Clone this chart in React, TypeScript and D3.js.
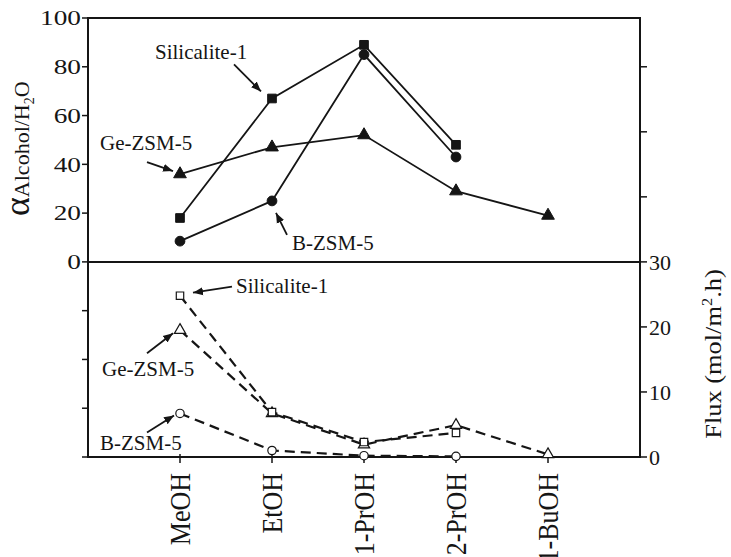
import React, { useEffect, useRef } from 'react';
import * as d3 from 'd3';

// categories along the x axis
const categories = ['MeOH', 'EtOH', '1-PrOH', '2-PrOH', '1-BuOH'];

// separation factor alpha (top panel, left axis)
const alphaSilicalite = [18, 67, 89, 48, null];
const alphaBZSM = [8.5, 25, 85, 43, null];
const alphaGeZSM = [36, 47, 52, 29, 19];

// flux mol/m2.h (bottom panel, right axis)
const fluxSilicalite = [24.8, 6.9, 2.3, 3.7, null];
const fluxGeZSM = [19.5, 6.7, 1.9, 4.9, 0.4];
const fluxBZSM = [6.7, 1.0, 0.2, 0.1, null];

const leftTicks = [0, 20, 40, 60, 80, 100];
const leftMinorTicks = [-20, -40, -60, -80];
const rightTicks = [0, 10, 20, 30];
const rightMinorTicks = [40, 50, 60];

const W = 731;
const H = 557;
const FONT = 'Liberation Serif, Times New Roman, serif';
const INK = '#151515';

type Shape = 'square' | 'circle' | 'triangle';

const App: React.FC = () => {
  const svgRef = useRef<SVGSVGElement>(null);

  useEffect(() => {
    if (!svgRef.current) return;
    const svg = d3.select(svgRef.current);
    svg.selectAll('*').remove();

    const left = 88;
    const right = 640;
    const top = 18;
    const bottom = 457;

    const x = d3.scalePoint<string>().domain(categories).range([left, right]).padding(1);
    const yAlpha = d3.scaleLinear().domain([-80, 100]).range([bottom, top]);
    const yFlux = d3.scaleLinear().domain([0, 67.5]).range([bottom, top]);

    // arrow marker
    svg
      .append('defs')
      .append('marker')
      .attr('id', 'arr')
      .attr('viewBox', '0 0 10 10')
      .attr('refX', 10)
      .attr('refY', 5)
      .attr('markerWidth', 10)
      .attr('markerHeight', 10)
      .attr('markerUnits', 'userSpaceOnUse')
      .attr('orient', 'auto')
      .append('path')
      .attr('d', 'M0,1 L10,5 L0,9 Z')
      .attr('fill', INK);

    const g = svg.append('g').attr('font-family', FONT);

    // frame
    g.append('rect')
      .attr('x', left)
      .attr('y', top)
      .attr('width', right - left)
      .attr('height', bottom - top)
      .attr('fill', 'none')
      .attr('stroke', INK)
      .attr('stroke-width', 2);
    g.append('line')
      .attr('x1', left)
      .attr('x2', right)
      .attr('y1', yAlpha(0))
      .attr('y2', yAlpha(0))
      .attr('stroke', INK)
      .attr('stroke-width', 2);

    // left ticks + labels
    [...leftTicks, ...leftMinorTicks].forEach((t) => {
      g.append('line')
        .attr('x1', left - 6)
        .attr('x2', left)
        .attr('y1', yAlpha(t))
        .attr('y2', yAlpha(t))
        .attr('stroke', INK)
        .attr('stroke-width', 1.5);
    });
    leftTicks.forEach((t) => {
      g.append('text')
        .attr('transform', `translate(${left - 7},${yAlpha(t)}) scale(1.3,1)`)
        .attr('dy', '0.35em')
        .attr('text-anchor', 'end')
        .attr('font-size', 21)
        .attr('fill', INK)
        .text(t);
    });

    // right ticks + labels
    [...rightTicks, ...rightMinorTicks].forEach((t) => {
      g.append('line')
        .attr('x1', right)
        .attr('x2', right + 7)
        .attr('y1', yFlux(t))
        .attr('y2', yFlux(t))
        .attr('stroke', INK)
        .attr('stroke-width', 1.5);
    });
    rightTicks.forEach((t) => {
      g.append('text')
        .attr('x', right + 9)
        .attr('y', yFlux(t))
        .attr('dy', '0.35em')
        .attr('font-size', 22)
        .attr('fill', INK)
        .text(t);
    });

    // x ticks + rotated labels
    categories.forEach((c) => {
      g.append('line')
        .attr('x1', x(c)!)
        .attr('x2', x(c)!)
        .attr('y1', bottom - 3)
        .attr('y2', bottom + 6)
        .attr('stroke', INK)
        .attr('stroke-width', 1.5);
      g.append('text')
        .attr('transform', `translate(${x(c)},${bottom + 16}) rotate(-90) scale(1,1.15)`)
        .attr('dy', '0.35em')
        .attr('text-anchor', 'end')
        .attr('font-size', 26)
        .attr('fill', INK)
        .text(c);
    });

    // axis titles
    const ya = g
      .append('text')
      .attr('transform', `translate(29,216) rotate(-90)`)
      .attr('fill', INK);
    ya.append('tspan').attr('font-size', 36).text('α');
    ya.append('tspan').attr('font-size', 22).text('Alcohol/H');
    ya.append('tspan').attr('font-size', 14).attr('dy', 5).text('2');
    ya.append('tspan').attr('font-size', 22).attr('dy', -5).text('O');

    const yf = g
      .append('text')
      .attr('transform', `translate(721,354) rotate(-90) scale(1.1,1)`)
      .attr('text-anchor', 'middle')
      .attr('font-size', 24)
      .attr('fill', INK);
    yf.append('tspan').text('Flux (mol/m');
    yf.append('tspan').attr('font-size', 15).attr('dy', -9).text('2');
    yf.append('tspan').attr('dy', 9).text('.h)');

    const drawSeries = (
      vals: (number | null)[],
      y: d3.ScaleLinear<number, number>,
      shape: Shape,
      filled: boolean,
      dashed: boolean,
    ) => {
      const pts = vals
        .map((v, i) => (v == null ? null : ([x(categories[i])!, y(v)] as [number, number])))
        .filter((p): p is [number, number] => p !== null);
      g.append('path')
        .attr('d', d3.line()(pts))
        .attr('fill', 'none')
        .attr('stroke', INK)
        .attr('stroke-width', dashed ? 2.2 : 1.8)
        .attr('stroke-dasharray', dashed ? '10,6' : null);
      const sym =
        shape === 'square' ? d3.symbolSquare : shape === 'circle' ? d3.symbolCircle : d3.symbolTriangle;
      const size = filled ? (shape === 'triangle' ? 70 : 75) : 55;
      pts.forEach(([px, py]) => {
        g.append('path')
          .attr('transform', `translate(${px},${py})`)
          .attr('d', d3.symbol(sym, size)()!)
          .attr('fill', filled ? INK : '#fff')
          .attr('stroke', INK)
          .attr('stroke-width', filled ? 1 : 1.2);
      });
    };

    drawSeries(alphaSilicalite, yAlpha, 'square', true, false);
    drawSeries(alphaBZSM, yAlpha, 'circle', true, false);
    drawSeries(alphaGeZSM, yAlpha, 'triangle', true, false);
    drawSeries(fluxBZSM, yFlux, 'circle', false, true);
    drawSeries(fluxGeZSM, yFlux, 'triangle', false, true);
    drawSeries(fluxSilicalite, yFlux, 'square', false, true);

    // annotations anchored to data points: [label, anchor x, anchor y, text offset, arrow start, arrow tip]
    const notes: [string, number, number, number[], number[], number[]][] = [
      ['Silicalite-1', x('EtOH')!, yAlpha(alphaSilicalite[1]!), [-117, -39], [-38, -34], [-11, -7]],
      ['Ge-ZSM-5', x('MeOH')!, yAlpha(alphaGeZSM[0]!), [-80, -24], [-33, -12], [-7, -3]],
      ['B-ZSM-5', x('EtOH')!, yAlpha(alphaBZSM[1]!), [20, 49], [15, 34], [4, 12]],
      ['Silicalite-1', x('MeOH')!, yFlux(fluxSilicalite[0]!), [56, -3], [52, -9], [13, -3]],
      ['Ge-ZSM-5', x('MeOH')!, yFlux(fluxGeZSM[0]!), [-78, 46], [-33, 23], [-7, 3]],
      ['B-ZSM-5', x('MeOH')!, yFlux(fluxBZSM[0]!), [-80, 37], [-33, 19], [-6, 2]],
    ];
    notes.forEach(([label, ax, ay, t, s, e]) => {
      g.append('text')
        .attr('x', ax + t[0])
        .attr('y', ay + t[1])
        .attr('font-size', 21)
        .attr('fill', INK)
        .text(label);
      g.append('line')
        .attr('x1', ax + s[0])
        .attr('y1', ay + s[1])
        .attr('x2', ax + e[0])
        .attr('y2', ay + e[1])
        .attr('stroke', INK)
        .attr('stroke-width', 1.8)
        .attr('marker-end', 'url(#arr)');
    });
  }, []);

  return (
    <svg
      ref={svgRef}
      width={W}
      height={H}
      style={{ position: 'absolute', left: 0, top: 0, background: '#fff' }}
    ></svg>
  );
};

export default App;
